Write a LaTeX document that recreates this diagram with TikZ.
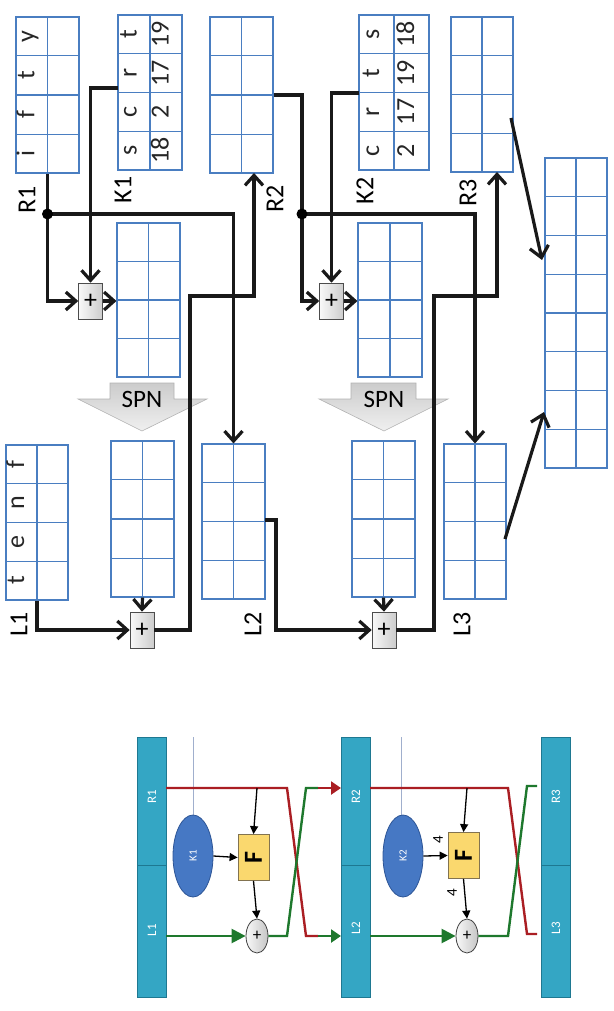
\documentclass[tikz,border=0pt]{standalone}
\usepackage{fontspec}
\setmainfont{Carlito}
\usetikzlibrary{arrows.meta,calc,shapes.geometric}
\definecolor{tabblue}{RGB}{74,126,193}
\definecolor{barfill}{RGB}{52,166,196}
\definecolor{baredge}{RGB}{30,120,145}
\definecolor{ellfill}{RGB}{70,120,196}
\definecolor{elledge}{RGB}{45,85,150}
\definecolor{fyellow}{RGB}{250,216,110}
\definecolor{fedge}{RGB}{130,115,80}
\definecolor{redl}{RGB}{170,30,35}
\definecolor{greenl}{RGB}{30,120,45}
\newcommand\gtab[7]{%
  \node[tabbox, minimum width=#4pt, minimum height=#5pt] (#1) at (#2,#3) {};
  \draw[tabline] (#1.north) -- (#1.south);
  \foreach \k in {#6} {\draw[tabline] ($(#1.north west)!\k/#7!(#1.south west)$) -- ($(#1.north east)!\k/#7!(#1.south east)$);}
}
\begin{document}
\begin{tikzpicture}[x=1pt,y=-1pt,
  tabbox/.style={draw=tabblue, line width=1.1pt, inner sep=0pt, rectangle},
  tabline/.style={draw=tabblue, line width=1.1pt},
  celltxt/.style={rotate=90, font=\fontsize{26}{26}\selectfont, inner sep=0pt, text height=0.7em, text depth=0.2em, text=black!85},
  lbl/.style={rotate=90, font=\fontsize{26}{26}\selectfont, inner sep=0pt},
  xorbox/.style={draw=gray!60!black, line width=0.6pt, left color=gray!5, right color=gray!40, minimum width=24pt, minimum height=36pt, inner sep=0pt, font=\fontsize{26}{26}\selectfont},
  conn/.style={line width=3.2pt, draw=black!90},
  barb/.style={-{Straight Barb[length=10pt,width=18pt]}},
  spnshape/.style={draw=gray!60, line width=0.6pt, top color=gray!40, bottom color=gray!12},
  spntxt/.style={font=\fontsize{25}{25}\selectfont, inner sep=0pt},
  bar/.style={draw=baredge, fill=barfill, line width=1pt, minimum width=29pt, inner sep=0pt},
  bartxt/.style={rotate=90, text=white, font=\fontsize{13}{13}\selectfont, inner sep=0pt},
  kell/.style={ellipse, draw=elledge, fill=ellfill, line width=0.8pt, minimum width=40pt, minimum height=82pt, inner sep=0pt},
  fbox/.style={draw=fedge, fill=fyellow, line width=0.8pt, minimum width=31pt, minimum height=46pt, inner sep=0pt},
  fxor/.style={ellipse, draw=gray!50!black, line width=0.8pt, left color=gray!5, right color=gray!45, minimum width=22pt, minimum height=34pt, inner sep=0pt, font=\fontsize{17}{17}\selectfont},
  redw/.style={draw=redl, line width=2.4pt},
  greenw/.style={draw=greenl, line width=2.4pt},
  blk/.style={draw=black, line width=1.3pt, -{Triangle[length=8pt,width=8pt]}}
]
\useasboundingbox (0,0) rectangle (613,1011);

% ---------- top diagram: tables ----------
\gtab{R1}{47.5}{95}{63}{156}{1,2,3}{4}
\gtab{K1}{150}{92.5}{64}{155}{1,2,3}{4}
\gtab{R2}{241.5}{95}{63}{156}{1,2,3}{4}
\gtab{K2}{394}{92.5}{70}{155}{1,2,3}{4}
\gtab{R3}{482}{94.5}{62}{155}{1,2,3}{4}
\gtab{BIG}{576}{313}{62}{310}{1,2,3,4,5,6,7}{8}
\gtab{M1}{148.5}{300}{63}{154}{1,2,3}{4}
\gtab{M2}{390}{300}{64}{154}{1,2,3}{4}
\gtab{S1}{142.5}{519}{63}{156}{1,2,3}{4}
\gtab{S2}{383.5}{519}{63}{156}{1,2,3}{4}
\gtab{L1}{37}{522.5}{62}{155}{1,2,3}{4}
\gtab{L2}{233.5}{521.5}{63}{155}{1,2,3}{4}
\gtab{L3}{475}{521.5}{62}{155}{1,2,3}{4}

% cell texts
\node[celltxt] (r1a) at (31.75,36.5) {y};
\node[celltxt] (r1b) at (31.75,75.5) {t};
\node[celltxt] (r1c) at (31.75,114.5) {f};
\node[celltxt] (r1d) at (31.75,153.5) {i};
\node[celltxt] (k1a) at (134,34.4) {t};
\node[celltxt] (k1b) at (134,73.1) {r};
\node[celltxt] (k1c) at (134,111.9) {c};
\node[celltxt] (k1d) at (134,150.6) {s};
\node[celltxt] (k1e) at (166,34.4) {19};
\node[celltxt] (k1f) at (166,73.1) {17};
\node[celltxt] (k1g) at (166,111.9) {2};
\node[celltxt] (k1h) at (166,150.6) {18};
\node[celltxt] (k2a) at (376.5,34.4) {s};
\node[celltxt] (k2b) at (376.5,73.1) {t};
\node[celltxt] (k2c) at (376.5,111.9) {r};
\node[celltxt] (k2d) at (376.5,150.6) {c};
\node[celltxt] (k2e) at (411.5,34.4) {18};
\node[celltxt] (k2f) at (411.5,73.1) {19};
\node[celltxt] (k2g) at (411.5,111.9) {17};
\node[celltxt] (k2h) at (411.5,150.6) {2};
\node[celltxt] (l1a) at (21.5,464.4) {f};
\node[celltxt] (l1b) at (21.5,503.1) {n};
\node[celltxt] (l1c) at (21.5,541.9) {e};
\node[celltxt] (l1d) at (21.5,580.6) {t};

% labels
\node[lbl] (lR1) at (27,200) {R1};
\node[lbl] (lK1) at (123,190) {K1};
\node[lbl] (lR2) at (275,199) {R2};
\node[lbl] (lK2) at (365,191) {K2};
\node[lbl] (lR3) at (468,193) {R3};
\node[lbl] (lL1) at (19,624) {L1};
\node[lbl] (lL2) at (253,624) {L2};
\node[lbl] (lL3) at (462,624) {L3};

% SPN arrows
\path[spnshape] (110,383) -- (174,383) -- (174,399) -- (207,399) -- (142,431) -- (78,399) -- (110,399) -- cycle;
\node[spntxt] (spn1) at (142,399) {SPN};
\path[spnshape] (351,383) -- (416,383) -- (416,399) -- (448,399) -- (384,431) -- (319,399) -- (351,399) -- cycle;
\node[spntxt] (spn2) at (384,399) {SPN};

% XOR boxes
\node[xorbox] (XK1) at (90.5,301) {+};
\node[xorbox] (XK2) at (331.5,301) {+};
\node[xorbox] (XB1) at (142,630) {+};
\node[xorbox] (XB2) at (384,630) {+};

% connection points
\coordinate (dot1) at (47.5,214);
\coordinate (dot2) at (302,214);
\coordinate (k1out) at (118,88);
\coordinate (k2out) at (359,93);
\coordinate (c1a) at (190,296);
\coordinate (r2in) at (254,173);
\coordinate (l2out) at (265,520);
\coordinate (c2b) at (276,520);
\coordinate (c3a) at (434,296);
\coordinate (r3in) at (497,172);
\coordinate (r3out) at (511,118);
\coordinate (bigin1) at (542,260);
\coordinate (l3out) at (505,539);
\coordinate (bigin2) at (544,412);

% connectors round 1
\draw[conn] (R1.south) -- (dot1);
\draw[conn,barb] (dot1) |- (XK1.west);
\draw[conn,barb] (dot1) -| (L2.north);
\fill (dot1) circle (5.5);
\draw[conn,barb] (k1out) -| (XK1.north);
\draw[conn,barb] (XK1.east) -- (XK1.east -| M1.west);
\draw[conn,barb] (S1.south) -- (XB1.north);
\draw[conn,barb] (L1.south) |- (XB1.west);
\draw[conn,barb] (XB1.east) -| (c1a) -| (r2in);

% connectors round 2
\draw[conn] (R2.east) -| (dot2);
\draw[conn,barb] (dot2) |- (XK2.west);
\draw[conn,barb] (dot2) -| (L3.north);
\fill (dot2) circle (5.5);
\draw[conn,barb] (k2out) -| (XK2.north);
\draw[conn,barb] (XK2.east) -- (XK2.east -| M2.west);
\draw[conn,barb] (S2.south) -- (XB2.north);
\draw[conn,barb] (l2out) -- (c2b) |- (XB2.west);
\draw[conn,barb] (XB2.east) -| (c3a) -| (r3in);

% to output
\draw[conn,-{Straight Barb[length=11pt,width=19pt]}] (r3out) -- (bigin1);
\draw[conn,-{Straight Barb[length=11pt,width=19pt]}] (l3out) -- (bigin2);

% ---------- bottom diagram ----------
\node[bar, minimum height=128pt] (b1r) at (151.5,801) {};
\node[bar, minimum height=132pt] (b1l) at (151.5,931) {};
\node[bar, minimum height=128pt] (b2r) at (355.5,801) {};
\node[bar, minimum height=132pt] (b2l) at (355.5,931) {};
\node[bar, minimum height=128pt] (b3r) at (556,801) {};
\node[bar, minimum height=132pt] (b3l) at (556,931) {};
\node[bartxt] (tb1r) at (152,797) {R1};
\node[bartxt] (tb1l) at (152,930) {L1};
\node[bartxt] (tb2r) at (356,797) {R2};
\node[bartxt] (tb2l) at (356,928) {L2};
\node[bartxt] (tb3r) at (556,797) {R3};
\node[bartxt] (tb3l) at (556,928) {L3};

\coordinate (k1top) at (193,737);
\coordinate (k2top) at (401,737);
\draw[draw={rgb,255:red,160;green,175;blue,205}, line width=0.8pt] (k1top) -- (193,816);
\draw[draw={rgb,255:red,160;green,175;blue,205}, line width=0.8pt] (k2top) -- (401,816);
\node[kell] (K1e) at (193,856) {};
\node[kell] (K2e) at (403,856) {};
\node[bartxt, font=\fontsize{11}{11}\selectfont] (tk1) at (193,856) {K1};
\node[bartxt, font=\fontsize{11}{11}\selectfont] (tk2) at (403,856) {K2};

\node[fbox] (F1) at (253.5,857.5) {};
\node[fbox] (F2) at (463.5,855.5) {};
\node[rotate=90, font=\fontsize{26}{26}\selectfont\bfseries, inner sep=0pt] (tf1) at (253.5,857.5) {F};
\node[rotate=90, font=\fontsize{26}{26}\selectfont\bfseries, inner sep=0pt] (tf2) at (463.5,855.5) {F};

\node[fxor] (X1) at (257,936) {+};
\node[fxor] (X2) at (467,936) {+};

% stage 1 lines
\coordinate (r1o) at (166,788);
\coordinate (l1o) at (166,936);
\coordinate (a1) at (318,936);
\coordinate (a2) at (318,788);
\coordinate (r2i) at (341,788);
\coordinate (l2i) at (341,936);
\coordinate (t1) at (257,788);
\draw[redw] (r1o) -- (287,788) -- (306,936) -- (a1);
\draw[greenw, -{Triangle[length=10pt,width=13pt]}] (a1) -- (l2i);
\draw[greenw, -{Triangle[length=14pt,width=14pt]}] (l1o) -- (X1.west);
\draw[greenw] (X1.east) -- (287,936) -- (306,788) -- (a2);
\draw[redw, -{Triangle[length=10pt,width=13pt]}] (a2) -- (r2i);
\draw[blk] (t1) -- (F1.north);
\draw[blk] (K1e.east) -- (F1.west);
\draw[blk] (F1.south) -- (X1.north);

% stage 2 lines
\coordinate (r2o) at (370,788);
\coordinate (l2o) at (370,936);
\coordinate (t2) at (467,788);
\coordinate (r3e) at (537,786);
\coordinate (l3e) at (537,934);
\draw[redw] (r2o) -- (508,788) -- (527,934) -- (l3e);
\draw[greenw, -{Triangle[length=14pt,width=14pt]}] (l2o) -- (X2.west);
\draw[greenw] (X2.east) -- (508,936) -- (527,786) -- (r3e);
\draw[blk] (t2) -- (F2.north);
\draw[blk] (K2e.east) -- (F2.west);
\draw[blk] (F2.south) -- (X2.north);
\node[rotate=90, font=\fontsize{15}{15}\selectfont, inner sep=0pt] (n4a) at (438,840) {4};
\node[rotate=90, font=\fontsize{15}{15}\selectfont, inner sep=0pt] (n4b) at (452,893) {4};
\end{tikzpicture}
\end{document}
